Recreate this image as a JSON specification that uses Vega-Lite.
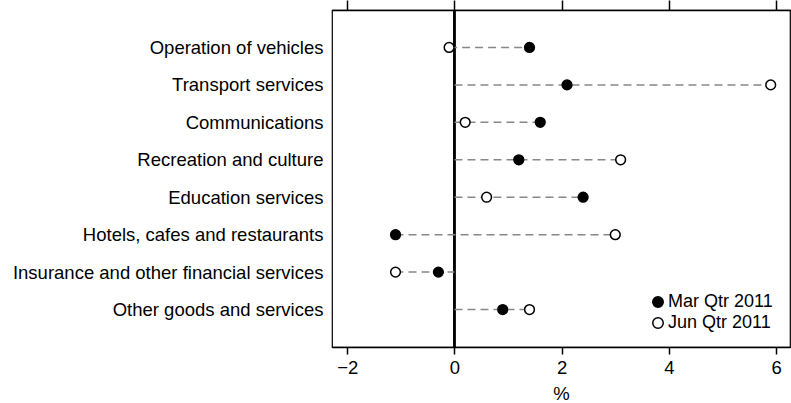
{
  "$schema": "https://vega.github.io/schema/vega-lite/v6.json",
  "width": 458,
  "height": 337,
  "autosize": {"type": "none"},
  "padding": {"left": 332, "top": 10, "right": 1, "bottom": 56},
  "background": "white",
  "config": {
    "font": "Liberation Sans",
    "view": {"stroke": "#000", "strokeWidth": 1.2},
    "axis": {"labelFont": "Liberation Sans", "labelFontSize": 18.5, "labelColor": "#000", "titleFont": "Liberation Sans", "titleFontSize": 18.5, "titleFontWeight": "normal", "titleColor": "#000", "grid": false, "tickColor": "#000", "domainColor": "#000", "labelLimit": 0},
    "legend": {"labelFont": "Liberation Sans", "labelFontSize": 18, "labelColor": "#000"}
  },
  "data": {
    "values": [
      {"category": "Operation of vehicles", "series": "Mar Qtr 2011", "value": 1.4},
      {"category": "Operation of vehicles", "series": "Jun Qtr 2011", "value": -0.1},
      {"category": "Transport services", "series": "Mar Qtr 2011", "value": 2.1},
      {"category": "Transport services", "series": "Jun Qtr 2011", "value": 5.9},
      {"category": "Communications", "series": "Mar Qtr 2011", "value": 1.6},
      {"category": "Communications", "series": "Jun Qtr 2011", "value": 0.2},
      {"category": "Recreation and culture", "series": "Mar Qtr 2011", "value": 1.2},
      {"category": "Recreation and culture", "series": "Jun Qtr 2011", "value": 3.1},
      {"category": "Education services", "series": "Mar Qtr 2011", "value": 2.4},
      {"category": "Education services", "series": "Jun Qtr 2011", "value": 0.6},
      {"category": "Hotels, cafes and restaurants", "series": "Mar Qtr 2011", "value": -1.1},
      {"category": "Hotels, cafes and restaurants", "series": "Jun Qtr 2011", "value": 3.0},
      {"category": "Insurance and other financial services", "series": "Mar Qtr 2011", "value": -0.3},
      {"category": "Insurance and other financial services", "series": "Jun Qtr 2011", "value": -1.1},
      {"category": "Other goods and services", "series": "Mar Qtr 2011", "value": 0.9},
      {"category": "Other goods and services", "series": "Jun Qtr 2011", "value": 1.4}
    ]
  },
  "encoding": {
    "y": {
      "field": "category", "type": "nominal", "title": null,
      "scale": {"type": "point", "padding": 1, "domain": ["Operation of vehicles", "Transport services", "Communications", "Recreation and culture", "Education services", "Hotels, cafes and restaurants", "Insurance and other financial services", "Other goods and services"]},
      "axis": {"ticks": false, "domain": false, "labelPadding": 9}
    }
  },
  "layer": [
    {
      "mark": {"type": "rule", "color": "#000", "strokeWidth": 1.3},
      "encoding": {
        "x": {"datum": 0, "type": "quantitative", "axis": null, "scale": {"domain": [-2.285, 6.26], "nice": false, "zero": false}},
        "y": null
      }
    },
    {
      "transform": [
        {"aggregate": [{"op": "min", "field": "value", "as": "vmin"}, {"op": "max", "field": "value", "as": "vmax"}], "groupby": ["category"]},
        {"calculate": "min(0, datum.vmin)", "as": "lo"},
        {"calculate": "max(0, datum.vmax)", "as": "hi"}
      ],
      "mark": {"type": "rule", "color": "#888888", "strokeWidth": 1.5, "strokeDash": [8, 5]},
      "encoding": {
        "x": {"field": "lo", "type": "quantitative", "axis": null},
        "x2": {"field": "hi"}
      }
    },
    {
      "mark": {"type": "point", "shape": "circle", "filled": true, "size": 95, "stroke": "#000", "strokeWidth": 1.5, "opacity": 1},
      "encoding": {
        "x": {
          "field": "value", "type": "quantitative", "title": "%",
          "scale": {"domain": [-2.285, 6.26], "nice": false, "zero": false},
          "axis": {"orient": "bottom", "values": [-2, 0, 2, 4, 6], "tickSize": 7, "labelPadding": 4, "titlePadding": 8, "domainWidth": 1.5, "tickWidth": 1.5}
        },
        "fill": {
          "field": "series", "type": "nominal",
          "scale": {"domain": ["Mar Qtr 2011", "Jun Qtr 2011"], "range": ["#000000", "#ffffff"]},
          "legend": {"title": null, "orient": "none", "legendX": 317, "legendY": 283, "symbolType": "circle", "symbolSize": 110, "symbolStrokeColor": "#000", "symbolStrokeWidth": 1.5, "symbolOpacity": 1, "labelOffset": 1, "rowPadding": 3, "padding": 0}
        }
      }
    },
    {
      "mark": {"type": "rule", "opacity": 0},
      "encoding": {
        "x": {"datum": 0, "type": "quantitative", "axis": {"orient": "top", "labels": false, "title": null, "values": [-2, 0, 2, 4, 6], "tickSize": 10, "domainWidth": 1.5, "tickWidth": 1.5}},
        "y": null
      }
    }
  ],
  "resolve": {"axis": {"x": "independent"}}
}
